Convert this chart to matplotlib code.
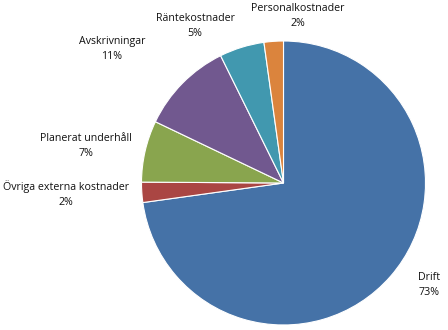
import matplotlib.pyplot as plt

# data
labels = ['Drift', 'Övriga externa kostnader', 'Planerat underhåll',
          'Avskrivningar', 'Räntekostnader', 'Personalkostnader']
values = [72.8, 2.3, 7.0, 10.6, 5.1, 2.2]
pct_labels = ['73%', '2%', '7%', '11%', '5%', '2%']
colors = ['#4572A7', '#AA4643', '#89A54E', '#71588F', '#4198AF', '#DB843D']

# label positions in pixels (x, y from top)
label_pos = [(429, 285), (66, 194), (86, 146), (112, 49), (195, 26), (298, 16)]

W, H = 448, 330
fig = plt.figure(figsize=(W / 100, H / 100), dpi=100)
ax = fig.add_axes([0, 0, 1, 1])

ax.pie(values, colors=colors, startangle=90, counterclock=False,
       center=(283.5, H - 183), radius=142,
       wedgeprops=dict(edgecolor='white', linewidth=0.8))

for lab, pct, (x, y) in zip(labels, pct_labels, label_pos):
    ax.text(x, H - y, lab + '\n' + pct, ha='center', va='center',
            fontsize=7.7, family=['Open Sans', 'DejaVu Sans'],
            color='#111111', linespacing=1.45)

ax.set_xlim(0, W)
ax.set_ylim(0, H)
ax.set_aspect('equal')
ax.axis('off')

fig.savefig('out.png', dpi=100, facecolor='white')
